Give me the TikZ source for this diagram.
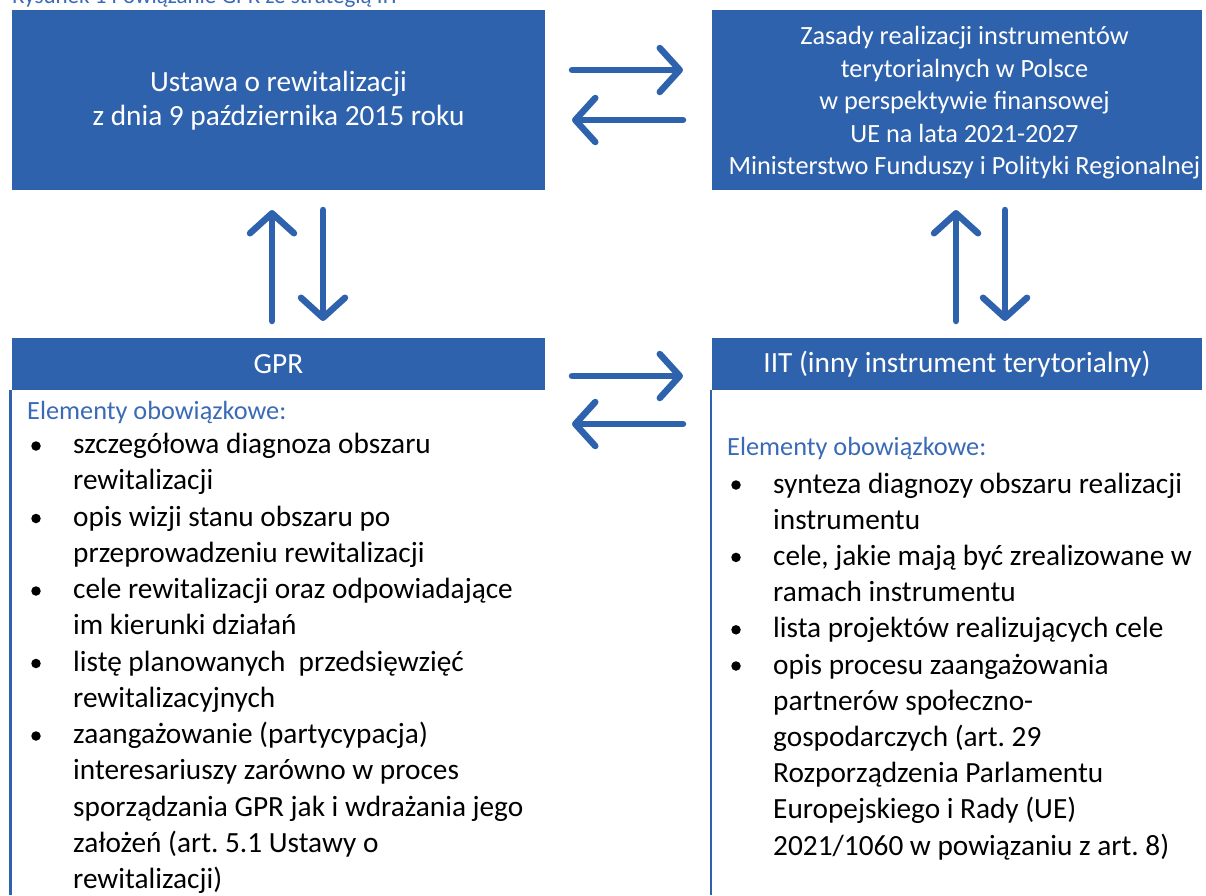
\documentclass[tikz,border=0pt]{standalone}
\usepackage{fontspec}
\setmainfont{Carlito}
\usetikzlibrary{arrows.meta}
\definecolor{boxblue}{RGB}{47,98,173}
\definecolor{txtblue}{RGB}{58,106,182}
\begin{document}
\frenchspacing
\begin{tikzpicture}[x=1pt,y=-1pt,
  box/.style={fill=boxblue, draw=none, inner sep=0pt},
  wtxt/.style={inner sep=0pt, text=white, align=center},
  big/.style={font=\fontsize{29.3}{34}\selectfont},
  small/.style={font=\fontsize{26.3}{32.5}\selectfont},
  arr/.style={draw=boxblue, line width=6.5pt, line cap=round, line join=round, -{Straight Barb[length=20pt,width=44pt,round]}},
  item/.style={anchor=base west, inner sep=0pt, big},
  headtxt/.style={anchor=base west, inner sep=0pt, small, text=txtblue},
  dot/.style={circle, fill=black, inner sep=0pt, minimum size=9.5pt},
  rulel/.style={draw=boxblue, line width=2.5pt}]
\useasboundingbox (0,0) rectangle (1206,895);
% caption (cut at the top, as in the source)
\node[anchor=base west, inner sep=0pt, text=txtblue, font=\fontsize{23}{26}\selectfont] (cap) at (12,3) {Rysunek 1 Powiązanie GPR ze strategią IIT};
% boxes
\node[box, minimum width=533pt, minimum height=180pt] (tl) at (278.5,100) {};
\node[wtxt, big] (tlt) at (278.5,101) {Ustawa o rewitalizacji\\z dnia 9 października 2015 roku};
\node[box, minimum width=490pt, minimum height=180pt] (tr) at (957,100) {};
\node[wtxt, small] (trt) at (964.5,103) {Zasady realizacji instrumentów\\terytorialnych w Polsce\\w perspektywie finansowej\\UE na lata 2021-2027\\Ministerstwo Funduszy i Polityki Regionalnej};
\node[box, minimum width=533pt, minimum height=52pt] (gpr) at (278.5,364) {};
\node[wtxt, big] (gprt) at (278.5,364) {GPR};
\node[box, minimum width=490pt, minimum height=52pt] (iit) at (957,364) {};
\node[wtxt, big] (iitt) at (957,364) {IIT (inny instrument terytorialny)};
% side rules
\coordinate (lr1) at (10.5,390); \coordinate (lr2) at (10.5,895);
\coordinate (rr1) at (711,390); \coordinate (rr2) at (711,895);
\draw[rulel] (lr1) -- (lr2);
\draw[rulel] (rr1) -- (rr2);
% arrows
\coordinate (a1s) at (572,70);  \coordinate (a1e) at (683,70);
\coordinate (a2s) at (683,120); \coordinate (a2e) at (572,120);
\coordinate (a3s) at (572,376); \coordinate (a3e) at (683,376);
\coordinate (a4s) at (683,424); \coordinate (a4e) at (572,424);
\coordinate (v1s) at (272,321); \coordinate (v1e) at (272,210);
\coordinate (v2s) at (323,210); \coordinate (v2e) at (323,321);
\coordinate (v3s) at (956,321); \coordinate (v3e) at (956,210);
\coordinate (v4s) at (1005,210); \coordinate (v4e) at (1005,321);
\foreach \s/\e in {a1s/a1e,a2s/a2e,a3s/a3e,a4s/a4e,v1s/v1e,v2s/v2e,v3s/v3e,v4s/v4e}
  \draw[arr] (\s) -- (\e);
% left list
\node[headtxt] (lh) at (27,419) {Elementy obowiązkowe:};
\foreach \t [count=\i from 0] in {{szczegółowa diagnoza obszaru},{rewitalizacji},{opis wizji stanu obszaru po},{przeprowadzeniu rewitalizacji},{cele rewitalizacji oraz odpowiadające},{im kierunki działań},{listę planowanych \ przedsięwzięć},{rewitalizacyjnych},{zaangażowanie (partycypacja)},{interesariuszy zarówno w proces},{sporządzania GPR jak i wdrażania jego},{założeń (art. 5.1 Ustawy o},{rewitalizacji)}}
  \node[item] (bl\i) at (73,{453.5+36.25*\i}) {\t};
\foreach \i in {0,2,4,6,8}
  \node[dot] (bd\i) at (36,{446+36.25*\i}) {};
% right list
\node[headtxt] (rh) at (727,455) {Elementy obowiązkowe:};
\foreach \t [count=\i from 0] in {{synteza diagnozy obszaru realizacji},{instrumentu},{cele, jakie mają być zrealizowane w},{ramach instrumentu},{lista projektów realizujących cele},{opis procesu zaangażowania},{partnerów społeczno-},{gospodarczych (art. 29},{Rozporządzenia Parlamentu},{Europejskiego i Rady (UE)},{2021/1060 w powiązaniu z art. 8)}}
  \node[item] (br\i) at (773,{493+36.2*\i}) {\t};
\foreach \i in {0,2,4,5}
  \node[dot] (rd\i) at (736,{485+36.2*\i}) {};
\end{tikzpicture}
\end{document}
